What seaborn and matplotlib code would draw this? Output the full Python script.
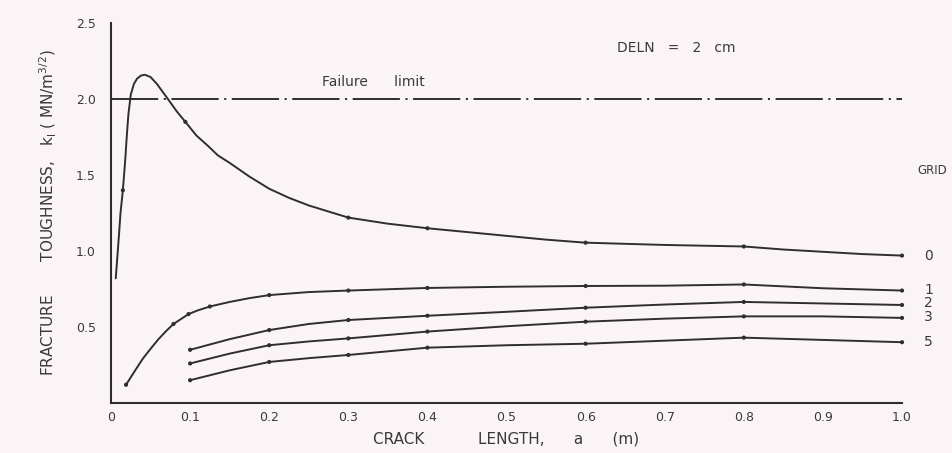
import matplotlib
matplotlib.use("Agg")
import matplotlib.pyplot as plt
import pandas as pd
import seaborn as sns

# Crack length a (m) and fracture toughness k_I (MN/m^3/2) for each grid
a_grid0 = [0.006, 0.010, 0.012, 0.015, 0.018, 0.020, 0.022, 0.025, 0.029, 0.033,
           0.038, 0.043, 0.050, 0.058, 0.065, 0.072, 0.083, 0.094, 0.108, 0.123,
           0.135, 0.15, 0.175, 0.2, 0.225, 0.25, 0.275, 0.3, 0.35, 0.4,
           0.45, 0.5, 0.55, 0.6, 0.7, 0.8, 0.85, 0.9, 0.95, 1.0]
k_grid0 = [0.82, 1.10, 1.25, 1.40, 1.60, 1.76, 1.90, 2.03, 2.10, 2.135,
           2.155, 2.16, 2.145, 2.10, 2.05, 2.00, 1.92, 1.85, 1.76, 1.69,
           1.63, 1.58, 1.49, 1.41, 1.35, 1.30, 1.26, 1.22, 1.18, 1.15,
           1.125, 1.10, 1.075, 1.055, 1.04, 1.03, 1.01, 0.995, 0.98, 0.97]

a_grid1 = [0.019, 0.030, 0.040, 0.049, 0.060, 0.070, 0.079, 0.098, 0.110, 0.125,
           0.15, 0.175, 0.2, 0.25, 0.3, 0.4, 0.5, 0.6, 0.7, 0.8, 0.9, 1.0]
k_grid1 = [0.12, 0.21, 0.29, 0.35, 0.42, 0.475, 0.52, 0.585, 0.61, 0.635,
           0.665, 0.69, 0.71, 0.73, 0.74, 0.757, 0.765, 0.77, 0.772, 0.78, 0.755, 0.74]

a_grid2 = [0.1, 0.15, 0.2, 0.25, 0.3, 0.4, 0.5, 0.6, 0.7, 0.8, 0.9, 1.0]
k_grid2 = [0.35, 0.42, 0.48, 0.52, 0.546, 0.574, 0.60, 0.627, 0.648, 0.665, 0.655, 0.645]

a_grid3 = [0.1, 0.15, 0.2, 0.25, 0.3, 0.4, 0.5, 0.6, 0.7, 0.8, 0.9, 1.0]
k_grid3 = [0.26, 0.325, 0.38, 0.405, 0.425, 0.47, 0.505, 0.535, 0.555, 0.57, 0.57, 0.56]

a_grid5 = [0.1, 0.15, 0.2, 0.25, 0.3, 0.4, 0.5, 0.6, 0.7, 0.8, 0.9, 1.0]
k_grid5 = [0.15, 0.215, 0.27, 0.295, 0.316, 0.364, 0.38, 0.39, 0.41, 0.43, 0.415, 0.40]

# Computed points shown as dots on each curve
dots_grid0 = [0.015, 0.094, 0.3, 0.4, 0.6, 0.8, 1.0]
dots_grid1 = [0.019, 0.079, 0.098, 0.125, 0.2, 0.3, 0.4, 0.6, 0.8, 1.0]
dots_grid2 = [0.1, 0.2, 0.3, 0.4, 0.6, 0.8, 1.0]
dots_grid3 = [0.1, 0.2, 0.3, 0.4, 0.6, 0.8, 1.0]
dots_grid5 = [0.1, 0.2, 0.3, 0.4, 0.6, 0.8, 1.0]

grid_names = ["0", "1", "2", "3", "5"]
failure_limit = 2.0

x_ticks = [0, 0.1, 0.2, 0.3, 0.4, 0.5, 0.6, 0.7, 0.8, 0.9, 1.0]
x_tick_labels = ["0", "0.1", "0.2", "0.3", "0.4", "0.5", "0.6", "0.7", "0.8", "0.9", "1.0"]
y_ticks = [0.5, 1.0, 1.5, 2.0, 2.5]
y_tick_labels = ["0.5", "1.0", "1.5", "2.0", "2.5"]

series = {
    "0": (a_grid0, k_grid0, dots_grid0),
    "1": (a_grid1, k_grid1, dots_grid1),
    "2": (a_grid2, k_grid2, dots_grid2),
    "3": (a_grid3, k_grid3, dots_grid3),
    "5": (a_grid5, k_grid5, dots_grid5),
}

rows, dot_rows = [], []
for g in grid_names:
    xs, ks, dots = series[g]
    for x, k in zip(xs, ks):
        rows.append({"grid": g, "a": x, "k": k})
        if x in dots:
            dot_rows.append({"grid": g, "a": x, "k": k})
df = pd.DataFrame(rows)
df_dots = pd.DataFrame(dot_rows)

sns.set_theme(style="white")
plt.rcParams["font.family"] = ["DejaVu Sans"]
plt.rcParams["lines.scale_dashes"] = False

bg = "#fbf4f6"
ink = "#2e2e2e"
txt = "#3a3a3a"

fig = plt.figure(figsize=(9.52, 4.53), dpi=100, facecolor=bg)
ax = fig.add_axes([0.1166, 0.1104, 0.8309, 0.8386])
ax.set_facecolor(bg)

palette = {g: ink for g in grid_names}
sns.lineplot(data=df, x="a", y="k", hue="grid", palette=palette, sort=False,
             estimator=None, linewidth=1.4, legend=False, ax=ax)
sns.scatterplot(data=df_dots, x="a", y="k", hue="grid", palette=palette,
                s=9, linewidth=0, legend=False, ax=ax, clip_on=False, zorder=4)

# Failure limit, dash-dot line
ax.plot([0, 1.0], [failure_limit, failure_limit], color=ink, linewidth=1.4,
        dashes=(34, 4, 1.5, 4), clip_on=False)

ax.set_xlim(0, 1.0)
ax.set_ylim(0, 2.5)
ax.set_xticks(x_ticks)
ax.set_xticklabels(x_tick_labels)
ax.set_yticks(y_ticks)
ax.set_yticklabels(y_tick_labels)

for side in ("top", "right"):
    ax.spines[side].set_visible(False)
for side in ("left", "bottom"):
    ax.spines[side].set_color(ink)
    ax.spines[side].set_linewidth(1.5)

ax.tick_params(axis="x", direction="in", length=6, width=1.2, color=ink,
               labelsize=9, labelcolor=txt, pad=6)
ax.tick_params(axis="y", direction="inout", length=10, width=1.2, color=ink,
               labelsize=9, labelcolor=txt, pad=6)

ax.set_xlabel("CRACK           LENGTH,      a      (m)", fontsize=11, color=txt, labelpad=5)
ax.set_ylabel(r"FRACTURE       TOUGHNESS,   k$_\mathrm{I}$ ( MN/m$^{3/2}$)",
              fontsize=11, color=txt, labelpad=12)

ax.text(0.267, 2.11, "Failure      limit", fontsize=10, color=txt, va="center")
ax.text(0.64, 2.335, "DELN   =   2   cm", fontsize=10, color=txt, va="center")
ax.text(1.02, 1.53, "GRID", fontsize=8.5, color=txt, va="center", clip_on=False)

end_y = {"0": 0.97, "1": 0.745, "2": 0.66, "3": 0.565, "5": 0.40}
for g in grid_names:
    ax.text(1.028, end_y[g], g, fontsize=10, color=txt, va="center", clip_on=False)

fig.savefig("out.png", dpi=100, facecolor=bg)
